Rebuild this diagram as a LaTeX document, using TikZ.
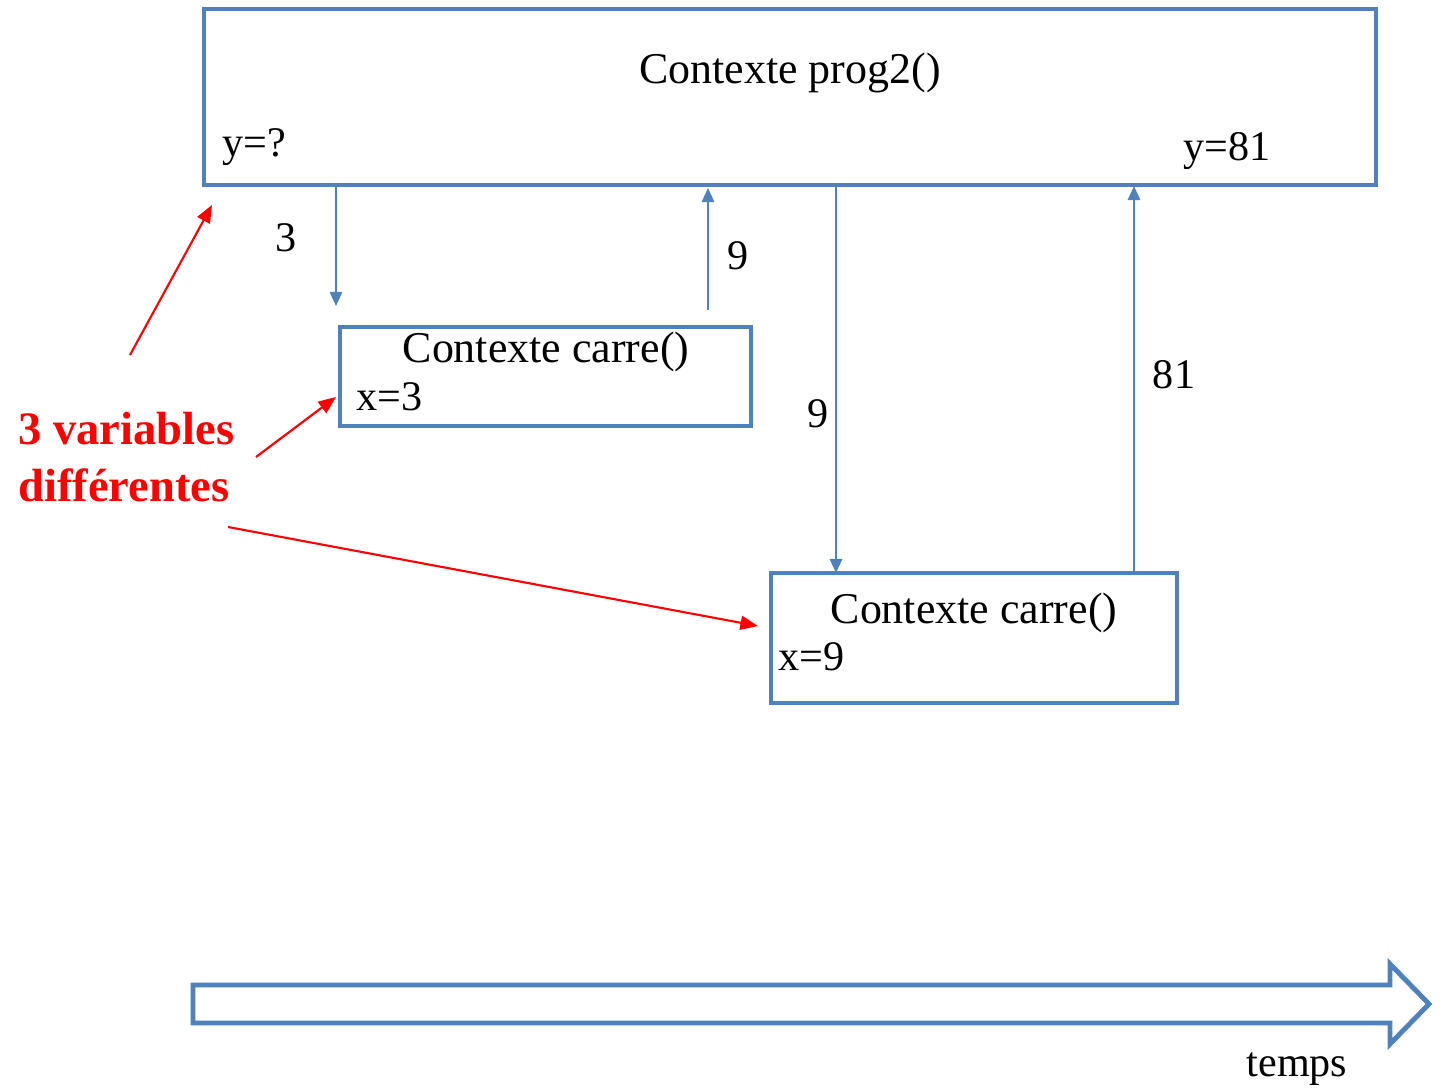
\documentclass[tikz,border=0pt]{standalone}
\usepackage{fontspec}
\setmainfont{Liberation Serif}
\usetikzlibrary{arrows.meta,shapes.arrows}
\definecolor{bl}{HTML}{4F81BD}
\definecolor{rd}{HTML}{FF0000}
\tikzset{
  ctx/.style={draw=bl,line width=2.8pt,inner sep=0pt},
  flow/.style={draw=bl,line width=1.2pt,-{Triangle[length=8pt,width=7pt]}},
  note/.style={draw=rd,line width=1.2pt,-{Triangle[length=10pt,width=8pt]}},
  lbl/.style={font=\fontsize{24}{26}\selectfont,inner sep=0pt},
  title/.style={font=\fontsize{25}{28}\selectfont,inner sep=0pt},
  redtxt/.style={font=\fontsize{26.5}{32}\selectfont\bfseries,text=rd,align=left,inner sep=0pt}
}
\begin{document}
\begin{tikzpicture}[x=0.02cm,y=-0.02cm]
\useasboundingbox (0,0) rectangle (1445,1091);
% boxes
\draw[ctx] (204,9) rectangle (1376,185);
\node[title] (t1) at (790,73) {Contexte prog2()};
\node[lbl,anchor=west] (y1) at (222,147) {y=?};
\node[lbl,anchor=west] (y2) at (1183,151) {y=81};
\draw[ctx] (340,327) rectangle (751,426);
\node[title] (t2) at (546,352) {Contexte carre()};
\node[lbl,anchor=west] (x1) at (356,397) {x=3};
\draw[ctx] (771,573) rectangle (1177,703);
\node[title] (t3) at (974,613) {Contexte carre()};
\node[lbl,anchor=west] (x2) at (778,657) {x=9};
% coordinates
\coordinate (a1s) at (336,187);
\coordinate (a1e) at (336,306);
\coordinate (a2s) at (708,310);
\coordinate (a2e) at (708,188);
\coordinate (a3s) at (836,187);
\coordinate (a3e) at (836,573);
\coordinate (a4s) at (1134,572);
\coordinate (a4e) at (1134,186);
\draw[flow] (a1s) -- (a1e);
\draw[flow] (a2s) -- (a2e);
\draw[flow] (a3s) -- (a3e);
\draw[flow] (a4s) -- (a4e);
\node[lbl] (n3) at (286,238) {3};
\node[lbl] (n9a) at (738,256) {9};
\node[lbl] (n9b) at (818,414) {9};
\node[lbl] (n81) at (1174,375) {81};
% red annotation
\node[redtxt,anchor=west] (rv) at (18,457) {3 variables\\différentes};
\coordinate (r1s) at (130,355);
\coordinate (r1e) at (212,205);
\coordinate (r2s) at (256,457);
\coordinate (r2e) at (336,397);
\coordinate (r3s) at (228,527);
\coordinate (r3e) at (758,626);
\draw[note] (r1s) -- (r1e);
\draw[note] (r2s) -- (r2e);
\draw[note] (r3s) -- (r3e);
% time arrow
\draw[draw=bl,line width=2.8pt,line join=miter] (193,985) -- (1390,985) -- (1390,964) -- (1429,1004) -- (1390,1044) -- (1390,1023) -- (193,1023) -- cycle;
\node[lbl] (tp) at (1297,1069) {temps};
\end{tikzpicture}
\end{document}
